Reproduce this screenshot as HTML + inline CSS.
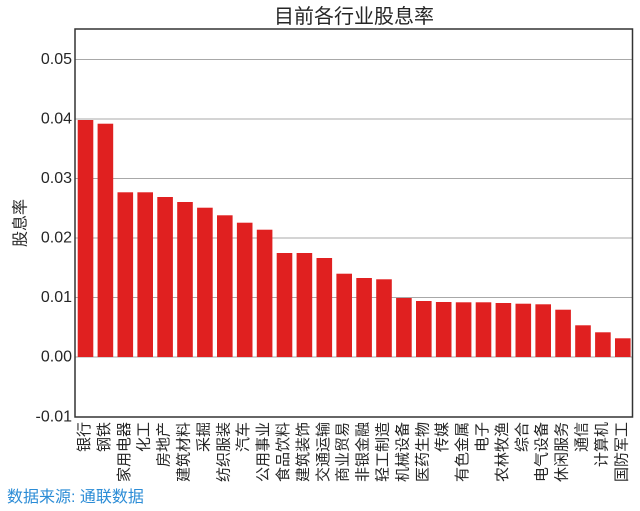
<!DOCTYPE html>
<html>
<head>
<meta charset="utf-8">
<style>
html,body{margin:0;padding:0;background:#fff;}
svg{display:block;}
text{font-family:"Liberation Sans","Noto Sans CJK SC",sans-serif;}
</style>
</head>
<body>
<svg width="640" height="511" viewBox="0 0 640 511" xmlns="http://www.w3.org/2000/svg">
<rect x="0" y="0" width="640" height="511" fill="#fff"/>
<!-- gridlines -->
<g stroke="#a8a8a8" stroke-width="1">
<line x1="75" y1="59.5" x2="632.5" y2="59.5"/>
<line x1="75" y1="119" x2="632.5" y2="119"/>
<line x1="75" y1="178.5" x2="632.5" y2="178.5"/>
<line x1="75" y1="238" x2="632.5" y2="238"/>
<line x1="75" y1="297.5" x2="632.5" y2="297.5"/>
<line x1="75" y1="357" x2="632.5" y2="357"/>
</g>
<!-- bars -->
<g fill="#e02020">
<rect x="77.7" y="120" width="15.6" height="237"/>
<rect x="97.6" y="123.7" width="15.6" height="233.3"/>
<rect x="117.5" y="192.3" width="15.6" height="164.7"/>
<rect x="137.4" y="192.3" width="15.6" height="164.7"/>
<rect x="157.3" y="197" width="15.6" height="160"/>
<rect x="177.2" y="202" width="15.6" height="155"/>
<rect x="197.1" y="207.7" width="15.6" height="149.3"/>
<rect x="217.0" y="215.3" width="15.6" height="141.7"/>
<rect x="236.9" y="222.7" width="15.6" height="134.3"/>
<rect x="256.8" y="229.7" width="15.6" height="127.3"/>
<rect x="276.7" y="253" width="15.6" height="104"/>
<rect x="296.6" y="253" width="15.6" height="104"/>
<rect x="316.5" y="258" width="15.6" height="99"/>
<rect x="336.4" y="273.7" width="15.6" height="83.3"/>
<rect x="356.3" y="278" width="15.6" height="79"/>
<rect x="376.2" y="279.3" width="15.6" height="77.7"/>
<rect x="396.1" y="298" width="15.6" height="59"/>
<rect x="416.0" y="301" width="15.6" height="56"/>
<rect x="435.9" y="302" width="15.6" height="55"/>
<rect x="455.8" y="302.3" width="15.6" height="54.7"/>
<rect x="475.7" y="302.3" width="15.6" height="54.7"/>
<rect x="495.6" y="303" width="15.6" height="54"/>
<rect x="515.5" y="303.7" width="15.6" height="53.3"/>
<rect x="535.4" y="304.3" width="15.6" height="52.7"/>
<rect x="555.3" y="309.7" width="15.6" height="47.3"/>
<rect x="575.2" y="325.3" width="15.6" height="31.7"/>
<rect x="595.1" y="332.3" width="15.6" height="24.7"/>
<rect x="615.0" y="338.3" width="15.6" height="18.7"/>
</g>
<!-- spines -->
<rect x="75" y="29" width="557.5" height="388" fill="none" stroke="#333" stroke-width="1.5"/>
<!-- y tick labels -->
<g font-size="16" fill="#262626" text-anchor="end" dominant-baseline="central">
<text x="72" y="59.5">0.05</text>
<text x="72" y="119">0.04</text>
<text x="72" y="178.5">0.03</text>
<text x="72" y="238">0.02</text>
<text x="72" y="297.5">0.01</text>
<text x="72" y="357">0.00</text>
<text x="72" y="417">-0.01</text>
</g>
<!-- title -->
<text x="354" y="23" font-size="20" fill="#262626" text-anchor="middle">目前各行业股息率</text>
<!-- y label -->
<text transform="translate(21,223) rotate(-90)" font-size="16" fill="#262626" text-anchor="middle" dominant-baseline="central">股息率</text>
<!-- x labels -->
<g font-size="15" fill="#262626" text-anchor="end" dominant-baseline="central">
<text transform="translate(84.5,422) rotate(-90)">银行</text>
<text transform="translate(104.4,422) rotate(-90)">钢铁</text>
<text transform="translate(124.3,422) rotate(-90)">家用电器</text>
<text transform="translate(144.2,422) rotate(-90)">化工</text>
<text transform="translate(164.1,422) rotate(-90)">房地产</text>
<text transform="translate(184.0,422) rotate(-90)">建筑材料</text>
<text transform="translate(203.9,422) rotate(-90)">采掘</text>
<text transform="translate(223.8,422) rotate(-90)">纺织服装</text>
<text transform="translate(243.7,422) rotate(-90)">汽车</text>
<text transform="translate(263.6,422) rotate(-90)">公用事业</text>
<text transform="translate(283.5,422) rotate(-90)">食品饮料</text>
<text transform="translate(303.4,422) rotate(-90)">建筑装饰</text>
<text transform="translate(323.3,422) rotate(-90)">交通运输</text>
<text transform="translate(343.2,422) rotate(-90)">商业贸易</text>
<text transform="translate(363.1,422) rotate(-90)">非银金融</text>
<text transform="translate(383.0,422) rotate(-90)">轻工制造</text>
<text transform="translate(402.9,422) rotate(-90)">机械设备</text>
<text transform="translate(422.8,422) rotate(-90)">医药生物</text>
<text transform="translate(442.7,422) rotate(-90)">传媒</text>
<text transform="translate(462.6,422) rotate(-90)">有色金属</text>
<text transform="translate(482.5,422) rotate(-90)">电子</text>
<text transform="translate(502.4,422) rotate(-90)">农林牧渔</text>
<text transform="translate(522.3,422) rotate(-90)">综合</text>
<text transform="translate(542.2,422) rotate(-90)">电气设备</text>
<text transform="translate(562.1,422) rotate(-90)">休闲服务</text>
<text transform="translate(582.0,422) rotate(-90)">通信</text>
<text transform="translate(601.9,422) rotate(-90)">计算机</text>
<text transform="translate(621.8,422) rotate(-90)">国防军工</text>
</g>
<!-- source -->
<text x="7" y="502" font-size="16" fill="#2b8cd6">数据来源: 通联数据</text>
</svg>
</body>
</html>
